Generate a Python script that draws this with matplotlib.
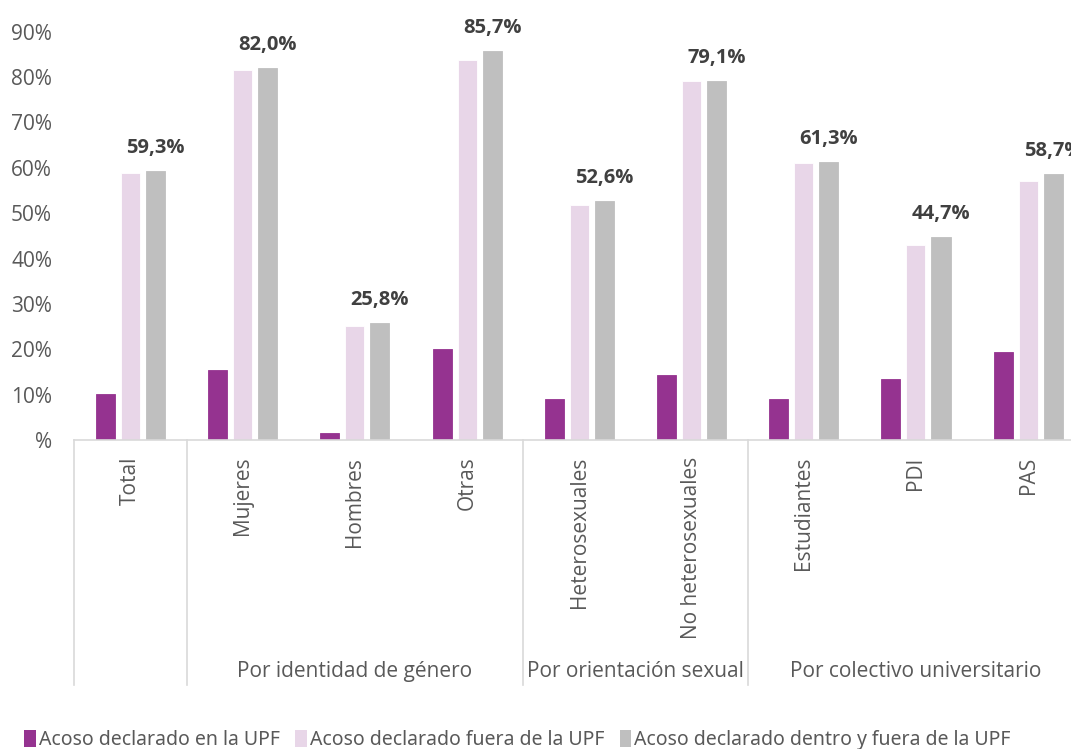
import matplotlib.pyplot as plt
from matplotlib.patches import Patch

plt.rcParams['font.family'] = ['Open Sans', 'DejaVu Sans']

categorias = ['Total', 'Mujeres', 'Hombres', 'Otras', 'Heterosexuales',
              'No heterosexuales', 'Estudiantes', 'PDI', 'PAS']
grupos = ['Por identidad de género', 'Por orientación sexual', 'Por colectivo universitario']
# (primera, última) categoría de cada grupo
grupos_idx = [(1, 3), (4, 5), (6, 8)]

acoso_upf = [10.1, 15.4, 1.5, 20.1, 9.0, 14.3, 9.0, 13.4, 19.4]
acoso_fuera = [58.8, 81.5, 25.1, 83.8, 51.9, 79.1, 61.0, 43.0, 57.0]
acoso_dentro_fuera = [59.3, 82.0, 25.8, 85.7, 52.6, 79.1, 61.3, 44.7, 58.7]

y_ticks = [0, 10, 20, 30, 40, 50, 60, 70, 80, 90]
y_labels = ['%', '10%', '20%', '30%', '40%', '50%', '60%', '70%', '80%', '90%']

series = ['Acoso declarado en la UPF', 'Acoso declarado fuera de la UPF',
          'Acoso declarado dentro y fuera de la UPF']
colores = ['#953390', '#E8D6E8', '#BFBFBF']

gris_linea = '#D9D9D9'
gris_texto = '#595959'

fig = plt.figure(figsize=(10.71, 7.49), dpi=100)
ax = fig.add_axes([0.0694, 0.4126, 0.9430, 0.5451])

x = range(len(categorias))
ancho = 0.17
paso = 0.223
for k, (vals, col) in enumerate(zip([acoso_upf, acoso_fuera, acoso_dentro_fuera], colores)):
    pos = [i + (k - 1) * paso for i in x]
    ec = 'white' if k == 1 else col
    ax.bar(pos, vals, width=ancho, color=col, edgecolor=ec, linewidth=0.6, zorder=2)

# etiquetas sobre la serie total
for i, v in enumerate(acoso_dentro_fuera):
    txt = f'{v:.1f}'.replace('.', ',') + '%'
    ax.annotate(txt, (i + paso, v), xytext=(0, 13), textcoords='offset points',
                ha='center', va='baseline', fontsize=14.5, fontweight='bold',
                color='#404040', annotation_clip=False)

ax.set_xlim(-0.5, len(categorias) - 0.5)
ax.set_ylim(0, 90)
ax.set_yticks(y_ticks)
ax.set_yticklabels(y_labels)
ax.tick_params(axis='y', length=0, pad=16, labelsize=15, labelcolor=gris_texto)

ax.set_xticks(list(x))
ax.set_xticklabels(categorias, rotation=90, va='top', ha='center')
ax.tick_params(axis='x', length=0, pad=12, labelsize=15, labelcolor=gris_texto)

for s in ['top', 'right', 'left']:
    ax.spines[s].set_visible(False)
ax.spines['bottom'].set_color(gris_linea)
ax.spines['bottom'].set_linewidth(1.2)

# separadores del eje de dos niveles
xtr = ax.get_xaxis_transform()
for xs in [-0.5, 0.5, 3.5, 5.5, 8.5]:
    ax.plot([xs, xs], [0, -0.60], color=gris_linea, lw=1.2, transform=xtr, clip_on=False)

for nombre, (a, b) in zip(grupos, grupos_idx):
    ax.text((a + b) / 2, -0.5675, nombre, transform=xtr, ha='center', va='center',
            fontsize=15, color=gris_texto)

handles = [Patch(facecolor=c, edgecolor='none') for c in colores]
fig.legend(handles, series, loc='center left', bbox_to_anchor=(0.006, 0.012),
           ncol=3, frameon=False, handlelength=0.6, handleheight=1.0,
           handletextpad=0.15, columnspacing=0.8,
           prop={'family': 'Noto Sans', 'stretch': 'extra-condensed', 'size': 14},
           labelcolor=gris_texto)

fig.savefig('out.png', dpi=100)
